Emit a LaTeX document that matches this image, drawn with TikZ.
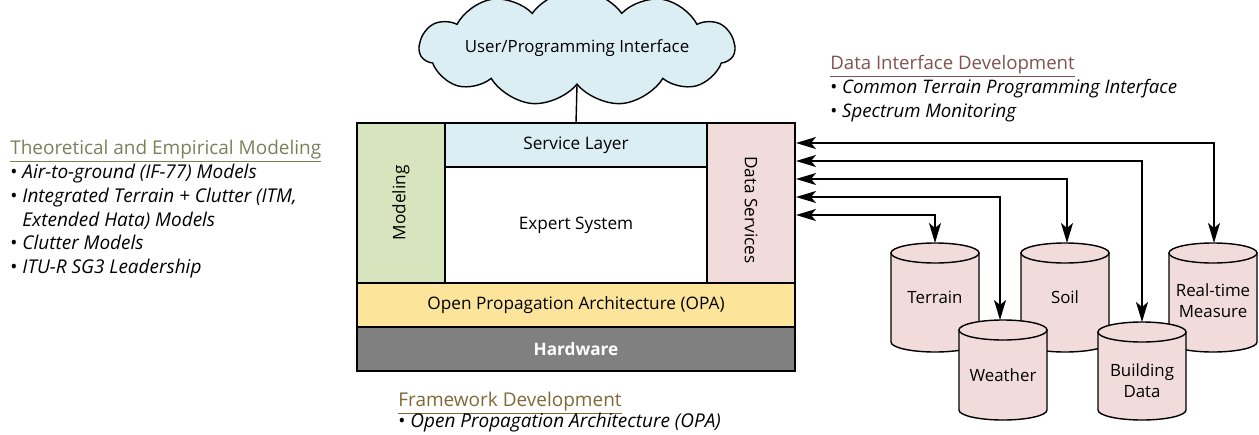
\documentclass[tikz,border=0pt]{standalone}
\usepackage{fontspec}
\setmainfont{Open Sans}
\usetikzlibrary{shapes.symbols,arrows.meta}

\definecolor{modelgreen}{RGB}{215,228,189}
\definecolor{serviceblue}{RGB}{219,238,244}
\definecolor{datapink}{RGB}{242,220,219}
\definecolor{opayellow}{RGB}{252,229,155}
\definecolor{hwgray}{RGB}{128,128,128}
\definecolor{theorycol}{RGB}{118,131,90}
\definecolor{datacol}{RGB}{130,82,82}
\definecolor{framecol}{RGB}{128,104,56}

\newcommand{\hdline}[1]{\smash{\underline{#1}}}

\tikzset{
  layer/.style={draw=black,line width=0.8pt,inner sep=0pt,outer sep=0pt,font=\fontsize{9.8}{11}\selectfont},
  dbcyl/.style={draw=black,line width=0.8pt,fill=datapink},
  dblabel/.style={align=center,font=\fontsize{9.6}{12}\selectfont},
  dataarrow/.style={line width=0.8pt,{Stealth[length=0.4cm,width=0.24cm,inset=0.1cm]}-{Stealth[length=0.4cm,width=0.24cm,inset=0.1cm]}},
  notes/.style={anchor=north west,align=left,inner sep=0pt}
}

\begin{document}
\begin{tikzpicture}[x=0.02cm,y=0.02cm]
   \useasboundingbox (0,0) rectangle (1259,434);
   % cloud on top
   \node[cloud,draw=black,line width=0.8pt,fill=serviceblue,cloud puffs=11,cloud puff arc=110,aspect=4.4,
         minimum width=5.4cm,minimum height=1.25cm,inner sep=0pt,font=\fontsize{9.6}{11}\selectfont] (ui) at (577,386) {User/Programming Interface};
   % layered architecture
   \begin{scope}[every node/.style={layer}]
    \node[fill=modelgreen,minimum width=1.76cm,minimum height=3.2cm] (model) at (401,231) {};
    \node[fill=serviceblue,minimum width=5.24cm,minimum height=0.88cm] (service) at (576,289) {Service Layer};
    \node[fill=white,minimum width=5.24cm,minimum height=2.32cm] (expert) at (576,209) {Expert System};
    \node[fill=datapink,minimum width=1.76cm,minimum height=3.2cm] (ds) at (751,231) {};
    \node[fill=opayellow,minimum width=8.76cm,minimum height=0.88cm] (opa) at (576,129) {Open Propagation Architecture (OPA)};
    \node[fill=hwgray,minimum width=8.76cm,minimum height=0.88cm,text=white,font=\fontsize{9.8}{11}\selectfont\bfseries] (hw) at (576,85) {Hardware};
   \end{scope}
   \node[rotate=90,font=\fontsize{9.8}{11}\selectfont] (modeltext) at (model) {Modeling};
   \node[rotate=-90,font=\fontsize{9.8}{11}\selectfont] (dstext) at (751,224) {Data Services};
   \draw[line width=0.8pt] (ui.south) -- (service.north);
   % data stores, back row
   \draw[dbcyl] (891,181) -- (891,92) arc[start angle=180,end angle=360,x radius=44,y radius=10] -- (979,181) -- cycle;
   \draw[dbcyl] (935,181) ellipse[x radius=44,y radius=10];
   \draw[dbcyl] (1021,181) -- (1021,92) arc[start angle=180,end angle=360,x radius=44,y radius=10] -- (1109,181) -- cycle;
   \draw[dbcyl] (1065,181) ellipse[x radius=44,y radius=10];
   \draw[dbcyl] (1169,181) -- (1169,92) arc[start angle=180,end angle=360,x radius=44,y radius=10] -- (1257,181) -- cycle;
   \draw[dbcyl] (1213,181) ellipse[x radius=44,y radius=10];
   % data stores, front row
   \draw[dbcyl] (959,104) -- (959,24) arc[start angle=180,end angle=360,x radius=44,y radius=10] -- (1047,104) -- cycle;
   \draw[dbcyl] (1003,104) ellipse[x radius=44,y radius=10];
   \draw[dbcyl] (1098,102) -- (1098,24) arc[start angle=180,end angle=360,x radius=44,y radius=10] -- (1186,102) -- cycle;
   \draw[dbcyl] (1142,102) ellipse[x radius=44,y radius=10];
   \begin{scope}[every node/.style={dblabel}]
    \node (terrain) at (935,137) {Terrain};
    \node (soil) at (1065,137) {Soil};
    \node (realtime) at (1213,133) {Real-time\\Measure};
    \node (weather) at (1003,59) {Weather};
    \node (building) at (1142,53) {Building\\Data};
   \end{scope}
   \coordinate (terrain top) at (935,191);
   \coordinate (soil top) at (1067,191);
   \coordinate (realtime top) at (1214,191);
   \coordinate (weather top) at (1000,114);
   \coordinate (building top) at (1142,112);
   \coordinate (ds1) at (796,291);
   \coordinate (ds2) at (796,273);
   \coordinate (ds3) at (796,255);
   \coordinate (ds4) at (796,237);
   \coordinate (ds5) at (796,219);
   \draw[dataarrow] (ds1) -| (realtime top);
   \draw[dataarrow] (ds2) -| (building top);
   \draw[dataarrow] (ds3) -| (soil top);
   \draw[dataarrow] (ds4) -| (weather top);
   \draw[dataarrow] (ds5) -| (terrain top);
   % notes
   \node[notes,font=\fontsize{10.8}{13.6}\selectfont] (theory) at (10,280) {%
     \textcolor{theorycol}{\hdline{Theoretical and Empirical Modeling}}\\
     \textbullet\ \textit{Air-to-ground (IF-77) Models}\\
     \textbullet\ \textit{Integrated Terrain + Clutter (ITM,}\\
     \phantom{\textbullet\ }\textit{Extended Hata) Models}\\
     \textbullet\ \textit{Clutter Models}\\
     \textbullet\ \textit{ITU-R SG3 Leadership}};
   \node[notes,font=\fontsize{10.6}{13.6}\selectfont] (datadev) at (830,365) {%
     \textcolor{datacol}{\hdline{Data Interface Development}}\\
     \textbullet\ \textit{Common Terrain Programming Interface}\\
     \textbullet\ \textit{Spectrum Monitoring}};
   \node[notes,font=\fontsize{10.8}{12}\selectfont] (framedev) at (398,28) {%
     \textcolor{framecol}{\hdline{Framework Development}}\\
     \textbullet\ \textit{Open Propagation Architecture (OPA)}};
\end{tikzpicture}
\end{document}
